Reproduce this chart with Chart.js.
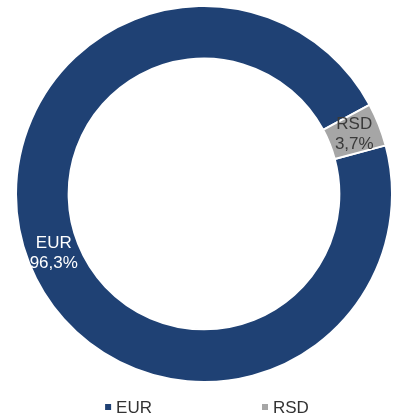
<!DOCTYPE html>
<html>
<head>
<meta charset="utf-8">
<script src="https://cdn.jsdelivr.net/npm/chart.js@4/dist/chart.umd.min.js"></script>
<style>
  html, body { margin: 0; padding: 0; background: #fff; }
  #wrap { width: 394px; height: 418px; position: relative; }
</style>
</head>
<body>
<div id="wrap"><canvas id="myChart"></canvas></div>
<script>
// valute i udeli (%)
const currencies = ["EUR", "RSD"];
const shares = [96.3, 3.7];
const sliceColors = ["#1F4174", "#A6A6A6"];
const labelColors = ["#FFFFFF", "#3A3A3A"];

const FONT = "'Liberation Sans', Arial, sans-serif";

function fmt(v) {
  return v.toFixed(1).replace(".", ",") + "%";
}

// natpisi unutar isečaka
const sliceLabels = {
  id: "sliceLabels",
  afterDatasetsDraw(chart) {
    const ctx = chart.ctx;
    const meta = chart.getDatasetMeta(0);
    ctx.save();
    ctx.font = "17px " + FONT;
    ctx.textAlign = "center";
    ctx.textBaseline = "middle";
    meta.data.forEach(function (arc, i) {
      const p = arc.getCenterPoint();
      ctx.fillStyle = labelColors[i];
      ctx.fillText(chart.data.labels[i], p.x, p.y - 10);
      ctx.fillText(fmt(chart.data.datasets[0].data[i]), p.x, p.y + 10);
    });
    ctx.restore();
  }
};

// legenda ispod grafikona, sa širokim razmakom
const bottomLegend = {
  id: "bottomLegend",
  afterDraw(chart) {
    const ctx = chart.ctx;
    const area = chart.chartArea;
    const box = 6, gapText = 5, gapItem = 110;
    ctx.save();
    ctx.font = "17px " + FONT;
    ctx.textBaseline = "middle";
    const widths = chart.data.labels.map(function (t) {
      return box + gapText + ctx.measureText(t).width;
    });
    const total = widths.reduce(function (a, b) { return a + b; }, 0) + gapItem * (widths.length - 1);
    let x = (area.left + area.right) / 2 + 3 - total / 2;
    const y = 407;
    chart.data.labels.forEach(function (t, i) {
      ctx.fillStyle = sliceColors[i];
      ctx.fillRect(x, y - box / 2, box, box);
      ctx.fillStyle = "#333333";
      ctx.fillText(t, x + box + gapText, y + 1);
      x += widths[i] + gapItem;
    });
    ctx.restore();
  }
};

const ctx = document.getElementById("myChart").getContext("2d");
window.myChart = new Chart(ctx, {
  type: "doughnut",
  data: {
    labels: currencies,
    datasets: [
      {
        data: shares,
        backgroundColor: sliceColors,
        borderColor: "#FFFFFF",
        borderWidth: 2,
        hoverOffset: 0
      }
    ]
  },
  options: {
    responsive: true,
    maintainAspectRatio: false,
    animation: false,
    rotation: 75,
    cutout: "72%",
    layout: { padding: { top: 5, left: 14, right: 0, bottom: 35 } },
    plugins: {
      legend: { display: false },
      tooltip: { enabled: false }
    }
  },
  plugins: [sliceLabels, bottomLegend]
});
</script>
</body>
</html>
